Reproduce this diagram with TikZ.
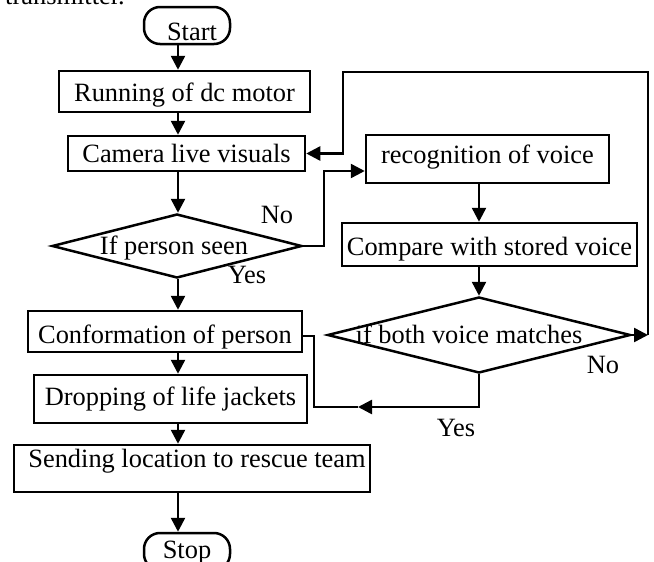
\documentclass[tikz,border=0pt]{standalone}
\usepackage{fontspec}
\setmainfont{Liberation Serif}
\usetikzlibrary{arrows.meta,shapes.geometric}
\begin{document}
\begin{tikzpicture}[x=1pt,y=-1pt,line width=2.5pt,
  txt/.style={font=\fontsize{26.4pt}{30pt}\selectfont, inner sep=0pt},
  box/.style={txt, draw, rectangle},
  term/.style={txt, draw, rectangle, rounded corners=16pt},
  dia/.style={txt, draw, diamond, text height=18pt, text depth=1pt},
  arr/.style={-{Triangle[length=14pt,width=14pt]}},
  lbl/.style={txt, anchor=base}]
\useasboundingbox (0,0) rectangle (654,562);
\fill[white] (0,0) rectangle (654,562);
\clip (0,0) rectangle (654,562);

\node[txt, anchor=base east] (top) at (126,5) {transmitter.};

% left column
\node[term, minimum width=86pt, text height=34pt, text depth=3pt] (start) at (187,25.5) {\hspace*{10pt}Start};
\node[box, minimum width=251pt, text height=30pt, text depth=11pt] (run) at (184.5,91.5) {Running of dc motor};
\node[box, minimum width=237pt, text height=26pt, text depth=9pt] (cam) at (186.5,153.5) {Camera live visuals};
\node[dia, minimum width=250pt, minimum height=64pt] (d1) at (177,246) {\makebox[0pt]{If person seen\hspace*{6pt}}};
\node[box, minimum width=274pt, text height=32pt, text depth=9pt] (conf) at (165,331.5) {Conformation of person};
\node[box, minimum width=273pt, text height=30pt, text depth=18pt] (drop) at (170.5,399) {Dropping of life jackets};
\node[box, minimum width=356pt, text height=22pt, text depth=25pt] (send) at (192,468.5) {\hspace*{10pt}Sending location to rescue team};
\node[term, minimum width=86pt, text height=25pt, text depth=12pt] (stop) at (187,551.5) {Stop};

% right column
\node[box, minimum width=243pt, text height=28pt, text depth=20pt] (rec) at (487.5,159) {recognition of voice};
\node[box, minimum width=295pt, text height=32pt, text depth=11pt] (cmp) at (489.5,244.5) {Compare with stored voice};
\node[dia, minimum width=303pt, minimum height=76pt] (d2) at (479,335) {\makebox[0pt]{if both voice matches\hspace*{20pt}}};

% labels
\node[lbl] (no1) at (277,223) {No};
\node[lbl] (yes1) at (247,283) {Yes};
\node[lbl] (no2) at (603,373) {No};
\node[lbl] (yes2) at (456,436) {Yes};

% coordinates
\coordinate (col) at (178,0);
\coordinate (b1) at (324,171);
\coordinate (r1) at (648,335);
\coordinate (r2) at (343,72);
\coordinate (yb) at (314,407);
\coordinate (yt) at (314,336);
\coordinate (ym) at (358,407);

% left column arrows
\draw[arr] (start.south -| col) -- (run.north -| col);
\draw[arr] (run.south -| col) -- (cam.north -| col);
\draw[arr] (cam.south -| col) -- (d1.north -| col);
\draw[arr] (d1.south -| col) -- (conf.north -| col);
\draw[arr] (conf.south -| col) -- (drop.north -| col);
\draw[arr] (drop.south -| col) -- (send.north -| col);
\draw[arr] (send.south -| col) -- (stop.north -| col);

% No branch of person check
\draw[arr] (d1.east) -| (b1) -- (b1 -| rec.west);

% right column arrows
\draw[arr] (rec.south -| d2.north) -- (cmp.north -| d2.north);
\draw[arr] (cmp.south -| d2.north) -- (d2.north);

% No loop back to camera
\draw[arr] (d2.east) -- (r1);
\draw[arr] (r1) |- (r2) |- (cam.east);

% Yes branch to conformation
\draw[arr] (d2.south) |- (ym);
\draw (ym) -- (yb) -- (yt) -- (yt -| conf.east);
\end{tikzpicture}
\end{document}
